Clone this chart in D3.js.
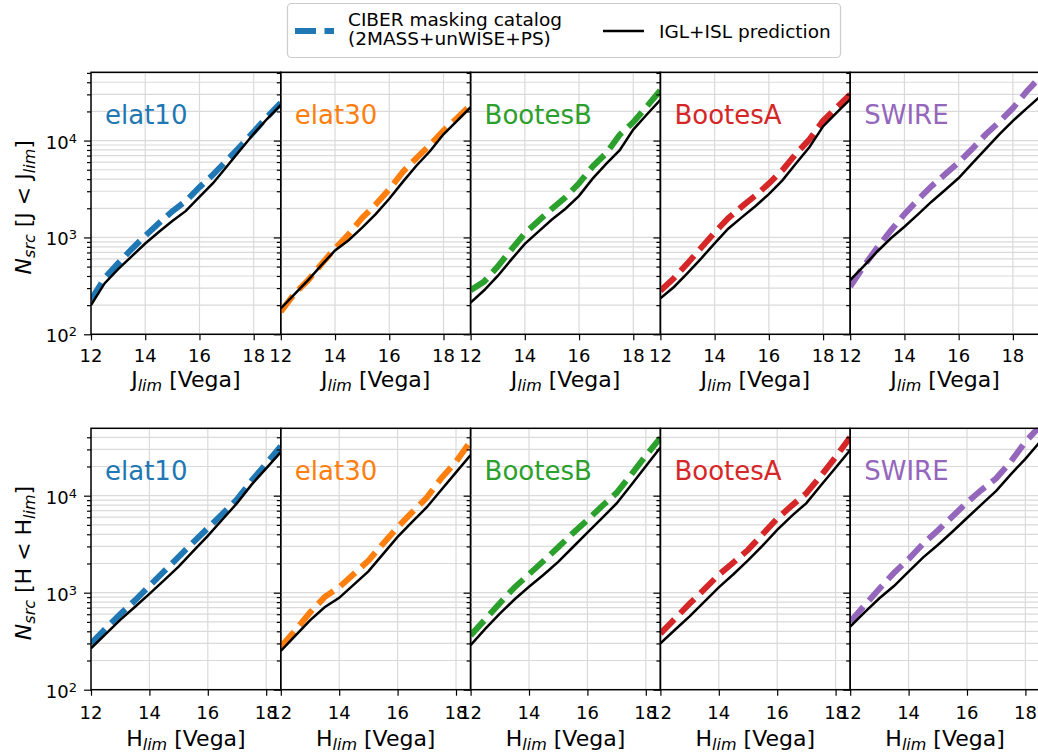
<!DOCTYPE html>
<html>
<head>
<meta charset="utf-8">
<script src="https://cdn.jsdelivr.net/npm/d3@7"></script>
<style>
  body { margin: 0; background: #fff; }
  svg { display: block; font-family: "DejaVu Sans", sans-serif; }
</style>
</head>
<body>
<svg id="chart" width="1038" height="755"></svg>
<script>
const fields = ["elat10", "elat30", "BootesB", "BootesA", "SWIRE"]
const colors = ["#1f77b4", "#ff7f0e", "#2ca02c", "#d62728", "#9467bd"]

const magJ = [12, 12.5, 13, 13.5, 14, 14.5, 15, 15.5, 16, 16.5, 17, 17.5, 18, 18.5, 19]
const magH = [12, 12.5, 13, 13.5, 14, 14.5, 15, 15.5, 16, 16.5, 17, 17.5, 18, 18.5]

// IGL+ISL prediction, one array per field (same order as fields)
const predJ = [
  [200, 335, 470, 638, 865, 1140, 1480, 1880, 2620, 3630, 5370, 7950, 11750, 16800, 23400],
  [185, 258, 360, 517, 733, 937, 1260, 1740, 2510, 3750, 5500, 7760, 11600, 16000, 22200],
  [212, 285, 400, 590, 857, 1150, 1530, 1980, 2690, 4050, 5740, 7950, 13000, 18600, 26300],
  [235, 308, 429, 605, 870, 1230, 1610, 2100, 2800, 3890, 5800, 8600, 14000, 19400, 26700],
  [363, 505, 716, 980, 1290, 1730, 2340, 3090, 4110, 5810, 8220, 11600, 16000, 21400, 28500]
]
// CIBER masking catalog counts
const catJ = [
  [226, 380, 540, 760, 1040, 1400, 1860, 2380, 3300, 4450, 6200, 8700, 12300, 17600, 24500],
  [171, 262, 360, 530, 770, 1080, 1590, 2190, 3150, 4750, 6600, 9000, 12700, 17000, 23200],
  [286, 350, 500, 750, 1100, 1480, 1980, 2600, 3630, 5400, 7400, 11500, 15500, 22500, 33000],
  [282, 380, 540, 780, 1125, 1580, 2080, 2700, 3600, 4950, 7300, 10300, 16000, 22000, 30000],
  [310, 505, 785, 1180, 1740, 2450, 3380, 4480, 5940, 8200, 11600, 15600, 21600, 32000, 45000]
]
const predH = [
  [267, 374, 524, 713, 972, 1340, 1860, 2680, 3860, 5680, 8360, 13000, 19100, 28200],
  [251, 360, 519, 708, 885, 1210, 1660, 2500, 3760, 5370, 7600, 11500, 17400, 26300],
  [288, 423, 607, 851, 1150, 1530, 2080, 2940, 4150, 5870, 8320, 12900, 20100, 31400],
  [300, 415, 571, 803, 1135, 1550, 2150, 3050, 4450, 6200, 8390, 12800, 19400, 29500],
  [447, 632, 877, 1170, 1650, 2310, 3100, 4250, 5890, 8130, 11200, 16600, 24000, 36000]
]
const catH = [
  [300, 425, 600, 830, 1170, 1660, 2340, 3300, 4630, 6500, 9170, 14300, 21400, 32400],
  [277, 410, 625, 900, 1140, 1560, 2140, 3200, 4730, 6760, 9570, 15200, 22400, 36400],
  [363, 530, 780, 1130, 1550, 2130, 2940, 4100, 5600, 7800, 10700, 16500, 25800, 39500],
  [378, 540, 770, 1080, 1530, 2050, 2760, 4000, 5800, 7900, 10600, 16100, 25000, 40000],
  [500, 745, 1100, 1600, 2220, 3200, 4380, 6100, 8520, 11500, 15100, 22400, 36000, 52000]
]

const xTicks = [12, 14, 16, 18]
const yMajor = [100, 1000, 10000]
const legendLabels = ["CIBER masking catalog", "(2MASS+unWISE+PS)", "IGL+ISL prediction"]

const svg = d3.select("#chart")
const left0 = 91, panelW = 189.8
const gridColor = "#dadada"

const rows = [
  { band: "J", mags: magJ, cat: catJ, pred: predJ, xMax: 19, top: 72.3, bottom: 334.3, yMax: 50700, tickY: 362, labelY: 387 },
  { band: "H", mags: magH, cat: catH, pred: predH, xMax: 18.5, top: 428.3, bottom: 689.7, yMax: 49500, tickY: 719, labelY: 746 }
]

function minorValues(yMax) {
  const out = []
  yMajor.forEach(d => {
    for (let k = 2; k <= 9; k++) if (d * k <= yMax) out.push(d * k)
  })
  return out
}

rows.forEach((row, r) => {
  const minors = minorValues(row.yMax)

  fields.forEach((field, i) => {
    const left = left0 + i * panelW
    const x = d3.scaleLinear().domain([12, row.xMax]).range([left, left + panelW])
    const y = d3.scaleLog().domain([100, row.yMax]).range([row.bottom, row.top])

    const clipId = `clip-${r}-${i}`
    svg.append("clipPath").attr("id", clipId)
      .append("rect")
      .attr("x", left).attr("y", row.top)
      .attr("width", panelW).attr("height", row.bottom - row.top)

    const g = svg.append("g")

    // grid
    const grid = g.append("g").attr("clip-path", `url(#${clipId})`)
    grid.selectAll("line.h")
      .data(yMajor.concat(minors))
      .join("line")
      .attr("x1", left).attr("x2", left + panelW)
      .attr("y1", d => y(d)).attr("y2", d => y(d))
      .attr("stroke", gridColor).attr("stroke-width", 1.2)
    grid.selectAll("line.v")
      .data(xTicks)
      .join("line")
      .attr("x1", d => x(d)).attr("x2", d => x(d))
      .attr("y1", row.top).attr("y2", row.bottom)
      .attr("stroke", gridColor).attr("stroke-width", 1.2)

    // curves
    const line = d3.line()
      .x((d, j) => x(row.mags[j]))
      .y(d => y(d))

    const curves = g.append("g").attr("clip-path", `url(#${clipId})`)
    curves.append("path")
      .datum(row.cat[i])
      .attr("fill", "none")
      .attr("stroke", colors[i])
      .attr("stroke-width", 6)
      .attr("stroke-dasharray", "20,8.5")
      .attr("d", line)
    curves.append("path")
      .datum(row.pred[i])
      .attr("fill", "none")
      .attr("stroke", "#000")
      .attr("stroke-width", 2.5)
      .attr("d", line)

    // ticks
    const yAxisG = g.append("g").attr("transform", `translate(${left},0)`)
    yAxisG.append("g").call(d3.axisLeft(y).tickValues(yMajor).tickSize(7).tickFormat(""))
    yAxisG.append("g").call(d3.axisLeft(y).tickValues(minors).tickSize(4).tickFormat(""))
    yAxisG.selectAll(".domain").remove()
    yAxisG.selectAll(".tick line").attr("stroke", "#000").attr("stroke-width", 1.2)

    const xAxisG = g.append("g").attr("transform", `translate(0,${row.bottom})`)
      .call(d3.axisBottom(x).tickValues(xTicks).tickSize(6).tickFormat(""))
    xAxisG.select(".domain").remove()
    xAxisG.selectAll(".tick line").attr("stroke", "#000").attr("stroke-width", 1.2)

    // frame
    g.append("rect")
      .attr("x", left).attr("y", row.top)
      .attr("width", panelW).attr("height", row.bottom - row.top)
      .attr("fill", "none").attr("stroke", "#000").attr("stroke-width", 1.5)

    // x tick labels
    g.selectAll("text.xt")
      .data(xTicks)
      .join("text")
      .attr("x", d => x(d)).attr("y", row.tickY)
      .attr("text-anchor", "middle")
      .attr("font-size", 18)
      .text(d => d)

    // y tick labels on first panel only
    if (i === 0) {
      yMajor.forEach(v => {
        const t = g.append("text")
          .attr("x", left - 14).attr("y", y(v) + 8)
          .attr("text-anchor", "end")
          .attr("font-size", 18)
        t.append("tspan").text("10")
        t.append("tspan").attr("font-size", 13).attr("dy", -6).text(Math.round(Math.log10(v)))
      })
    }

    // field label
    g.append("text")
      .attr("x", left + 14).attr("y", row.top + 52)
      .attr("font-size", 26)
      .attr("fill", colors[i])
      .text(field)

    // x axis label
    const xl = g.append("text")
      .attr("x", left + panelW / 2).attr("y", row.labelY)
      .attr("text-anchor", "middle")
      .attr("font-size", 22)
    xl.append("tspan").text(row.band)
    xl.append("tspan").attr("font-size", 16).attr("font-style", "italic").attr("dy", 4).text("lim")
    xl.append("tspan").attr("dy", -4).text(" [Vega]")
  })

  // y axis label
  const yl = svg.append("text")
    .attr("transform", `translate(31,${(row.top + row.bottom) / 2 + 4}) rotate(-90)`)
    .attr("text-anchor", "middle")
    .attr("font-size", 22)
  yl.append("tspan").attr("font-style", "italic").text("N")
  yl.append("tspan").attr("font-size", 16).attr("font-style", "italic").attr("dy", 4).text("src")
  yl.append("tspan").attr("dy", -4).text(` [${row.band} < ${row.band}`)
  yl.append("tspan").attr("font-size", 16).attr("font-style", "italic").attr("dy", 4).text("lim")
  yl.append("tspan").attr("dy", -4).text("]")
})

// legend
const lg = svg.append("g")
lg.append("rect")
  .attr("x", 287.5).attr("y", 3.5)
  .attr("width", 553).attr("height", 54)
  .attr("rx", 4)
  .attr("fill", "#fff").attr("fill-opacity", 0.8)
  .attr("stroke", "#cccccc").attr("stroke-width", 1.2)
lg.append("line")
  .attr("x1", 295).attr("x2", 334).attr("y1", 31).attr("y2", 31)
  .attr("stroke", colors[0]).attr("stroke-width", 6)
  .attr("stroke-dasharray", "21,8.5")
lg.append("text").attr("x", 348).attr("y", 26).attr("font-size", 18.5).text(legendLabels[0])
lg.append("text").attr("x", 348).attr("y", 44.5).attr("font-size", 18.5).text(legendLabels[1])
lg.append("line")
  .attr("x1", 603).attr("x2", 644).attr("y1", 31).attr("y2", 31)
  .attr("stroke", "#000").attr("stroke-width", 2.5)
lg.append("text").attr("x", 659).attr("y", 37.5).attr("font-size", 18.5).text(legendLabels[2])
</script>
</body>
</html>
